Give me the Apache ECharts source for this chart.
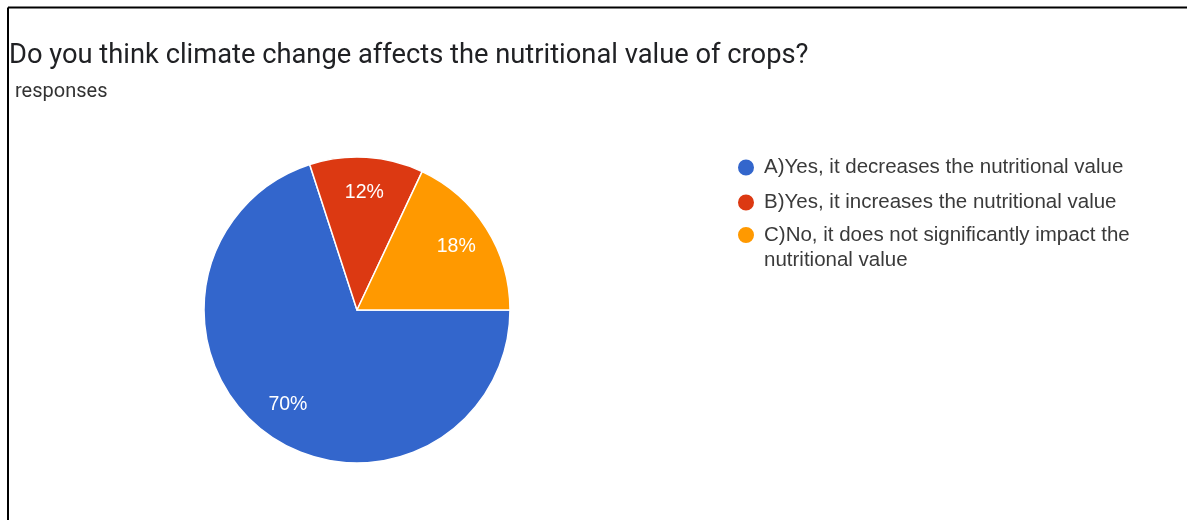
<!DOCTYPE html>
<html>
<head>
<meta charset="utf-8">
<script src="https://cdn.jsdelivr.net/npm/echarts@6/dist/echarts.min.js"></script>
<style>
  html, body { margin: 0; padding: 0; background: #fff; }
  #chart { width: 1187px; height: 520px; }
</style>
</head>
<body>
<div id="chart"></div>
<script>
// answers and their share of responses (%)
var categories = [
  'A)Yes, it decreases the nutritional value',
  'B)Yes, it increases the nutritional value',
  'C)No, it does not significantly impact the nutritional value'
];
var shares = [70, 12, 18];
var colors = ['#3366CC', '#DC3912', '#FF9900'];

var titleText = 'Do you think climate change affects the nutritional value of crops?';
var subText = 'responses';

var chart = echarts.init(document.getElementById('chart'));

var pieData = categories.map(function (name, i) {
  return { name: name, value: shares[i], itemStyle: { color: colors[i] } };
});

var legendItems = categories.map(function (name, i) {
  return { name: name, itemStyle: { color: colors[i] } };
});

var legendText = {
  fontFamily: 'Liberation Sans, Arial, sans-serif',
  fontSize: 20.5,
  lineHeight: 20,
  color: '#3a3a3a',
  padding: [0, 0, 0, 4],
  width: 372,
  overflow: 'break'
};

function legendBox(top, data, textStyle, formatter) {
  return {
    orient: 'vertical',
    left: 736,
    top: top,
    padding: 0,
    itemGap: 14,
    itemWidth: 18,
    itemHeight: 18,
    icon: 'circle',
    selectedMode: false,
    data: data,
    formatter: formatter,
    textStyle: textStyle
  };
}

var options = {
  animation: false,
  title: [
    {
      text: titleText,
      left: 9,
      top: 43,
      padding: 0,
      textStyle: { fontFamily: 'Roboto', fontSize: 27.3, fontWeight: 'normal', color: '#202124' }
    },
    {
      text: subText,
      left: 15,
      top: 82,
      padding: 0,
      textStyle: { fontFamily: 'Roboto', fontSize: 20, fontWeight: 'normal', color: '#333' }
    }
  ],
  legend: [
    legendBox(157, legendItems.slice(0, 2), legendText),
    // wrapped item: an empty first line keeps the text's first line level with the dot
    legendBox(197.5, legendItems.slice(2), Object.assign({}, legendText, { lineHeight: 25 }),
      function (name) { return '\n' + name; })
  ],
  graphic: [
    { type: 'line', shape: { x1: 8, y1: 7.5, x2: 1187, y2: 7.5 }, style: { stroke: '#000', lineWidth: 2 } },
    { type: 'line', shape: { x1: 8, y1: 7.5, x2: 8, y2: 520 }, style: { stroke: '#000', lineWidth: 2 } }
  ],
  series: [
    {
      type: 'pie',
      center: [357, 310],
      radius: 153,
      startAngle: 0,
      clockwise: true,
      label: { show: false },
      labelLine: { show: false },
      itemStyle: { borderColor: '#fff', borderWidth: 1.5 },
      emphasis: { disabled: true },
      data: pieData
    },
    {
      // label ring: places the percentages about 3/4 of the way out
      type: 'pie',
      silent: true,
      center: [357, 310],
      radius: [76, 153],
      startAngle: 0,
      clockwise: true,
      legendHoverLink: false,
      itemStyle: { color: 'transparent' },
      label: {
        show: true,
        position: 'inside',
        formatter: '{d}%',
        color: '#fff',
        fontFamily: 'Liberation Sans, Arial, sans-serif',
        fontSize: 19.5
      },
      labelLine: { show: false },
      emphasis: { disabled: true },
      data: categories.map(function (name, i) {
        return { name: name, value: shares[i] };
      })
    }
  ]
};

chart.setOption(options);
</script>
</body>
</html>
